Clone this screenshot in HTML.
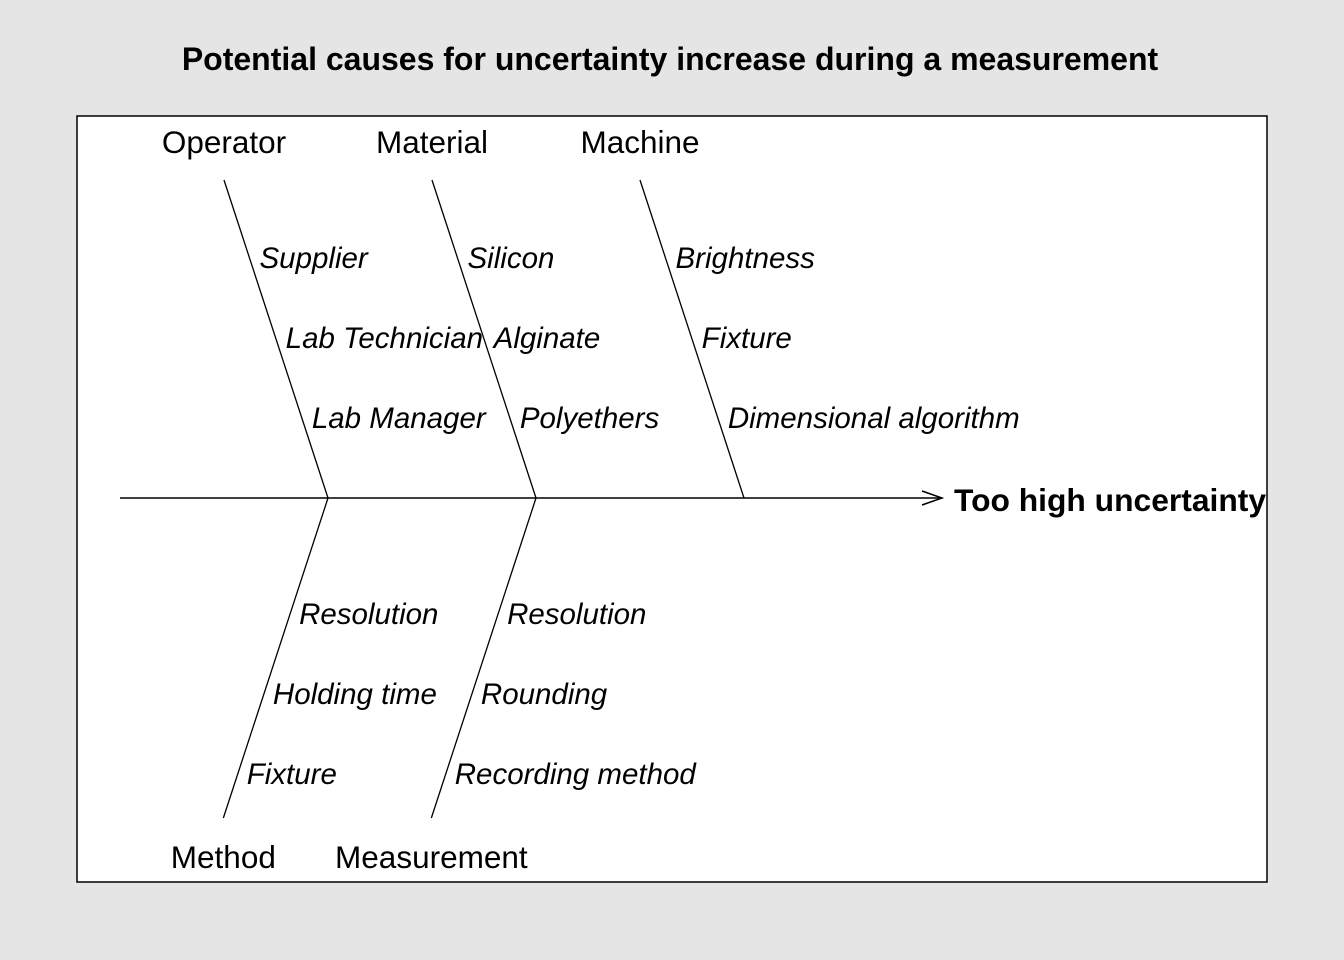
<!DOCTYPE html>
<html><head><meta charset="utf-8">
<style>
html,body{margin:0;padding:0;background:#e5e5e5;}
svg{display:block;font-family:"Liberation Sans",Arial,sans-serif;}
</style></head>
<body>
<svg id="c" width="1344" height="960" viewBox="0 0 1344 960" xmlns="http://www.w3.org/2000/svg">
<rect x="0" y="0" width="1344" height="960" fill="#e5e5e5"/>
<text x="670" y="70" text-anchor="middle" font-size="32" font-weight="bold">Potential causes for uncertainty increase during a measurement</text>
<rect x="77" y="116" width="1190" height="766" fill="#fff" stroke="#000" stroke-width="1.5"/>
<g id="g"></g>
</svg>
<script>
const effect = "Too high uncertainty";
const topGroups = ["Operator","Material","Machine"];
const topCauses = [["Supplier","Lab Technician","Lab Manager"],["Silicon","Alginate","Polyethers"],["Brightness","Fixture","Dimensional algorithm"]];
const bottomGroups = ["Method","Measurement"];
const bottomCauses = [["Resolution","Holding time","Fixture"],["Resolution","Rounding","Recording method"]];

const NS="http://www.w3.org/2000/svg";
const g=document.getElementById('g');
function mk(tag,attrs,txt){const e=document.createElementNS(NS,tag);for(const k in attrs)e.setAttribute(k,attrs[k]);if(txt!==undefined)e.textContent=txt;g.appendChild(e);return e;}
const spineY=498, spineX0=120, spineX1=942;
const boneX=i=>328+208*i;
const boneTopY=180, boneBotY=818, slope=104/318;
const ln=mk('line',{x1:spineX0,y1:spineY,x2:spineX1,y2:spineY,stroke:'#000','stroke-width':1.5});


const ar=mk('path',{d:`M${spineX1-20},${spineY-7} L${spineX1},${spineY} L${spineX1-20},${spineY+7}`,fill:'none',stroke:'#000','stroke-width':1.5});


const ef=mk('text',{x:954,y:511,'font-size':31.8,'font-weight':'bold'},effect);


const topY=[258,338,418], botY=[614,694,774];
topGroups.forEach((name,i)=>{
  const bx=boneX(i), tx=bx-slope*(spineY-boneTopY);
  const b=mk('line',{x1:tx,y1:boneTopY,x2:bx,y2:spineY,stroke:'#000','stroke-width':1.3});
  
  
  const t=mk('text',{x:tx,y:153,'font-size':31.5,'text-anchor':'middle'},name);
  
  
  topCauses[i].forEach((c,j)=>{
    const y=topY[j], x=bx-slope*(spineY-y)+10;
    const ct=mk('text',{x:x,y:y+10,'font-size':29.5,'font-style':'italic'},c);
    
    
  });
});
bottomGroups.forEach((name,i)=>{
  const bx=boneX(i), tx=bx-slope*(boneBotY-spineY);
  const b=mk('line',{x1:bx,y1:spineY,x2:tx,y2:boneBotY,stroke:'#000','stroke-width':1.3});
  
  
  const t=mk('text',{x:tx,y:868,'font-size':31.5,'text-anchor':'middle'},name);
  
  
  bottomCauses[i].forEach((c,j)=>{
    const y=botY[j], x=bx-slope*(y-spineY)+9;
    const ct=mk('text',{x:x,y:y+10,'font-size':29.5,'font-style':'italic'},c);
    
    
  });
});
</script>
</body></html>
